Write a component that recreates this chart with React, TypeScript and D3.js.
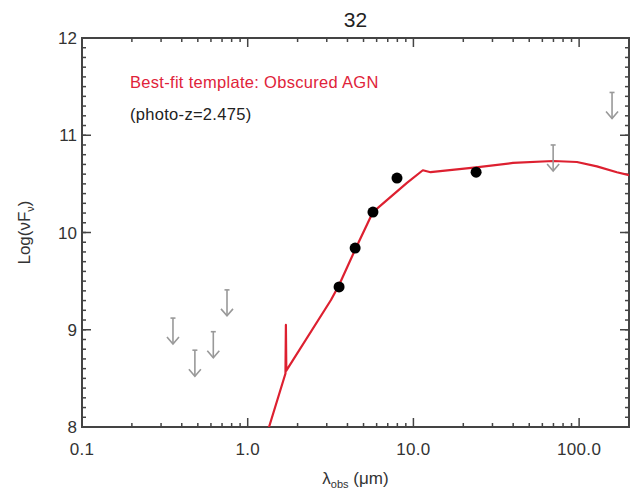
import React from "react";
import * as d3 from "d3";

const title = "32";
const xTickValues = [0.1, 1, 10, 100];
const xTickLabels = ["0.1", "1.0", "10.0", "100.0"];
const yTickValues = [8, 9, 10, 11, 12];
const yTickLabels = ["8", "9", "10", "11", "12"];

// detections (wavelength µm, log nuFnu)
const detLambda = [3.56, 4.45, 5.7, 7.96, 23.9];
const detValue = [9.44, 9.84, 10.21, 10.56, 10.62];

// upper limits
const ulLambda = [0.354, 0.48, 0.62, 0.75, 69.7, 158];
const ulValue = [9.12, 8.79, 8.98, 9.41, 10.9, 11.44];

// best-fit template
const tplLambda = [1.22, 1.345, 1.69, 1.70, 1.71, 3.18, 3.56, 4.44, 5.7, 9.14, 11.4, 12.7, 23.9, 39.9, 69.7, 97, 128, 169, 200];
const tplValue = [7.815, 8.0, 8.55, 9.05, 8.58, 9.306, 9.46, 9.82, 10.21, 10.51, 10.64, 10.62, 10.67, 10.715, 10.735, 10.725, 10.68, 10.62, 10.59];

const W = 641, H = 493;
const L = 82, R = 629, T = 38, B = 427;

export default function App() {
  const x = d3.scaleLog().domain([0.1, 200]).range([L, R]);
  const y = d3.scaleLinear().domain([8, 12]).range([B, T]);
  const line = d3.line<number>().x((_, i) => x(tplLambda[i])).y((d) => y(d));
  const tplPath = line(tplValue) || "";

  const xMinor: number[] = [];
  for (let e = -1; e <= 2; e++) {
    for (let k = 2; k <= 9; k++) {
      const v = k * Math.pow(10, e);
      if (v < 200) xMinor.push(v);
    }
  }
  const yMinor: number[] = d3.range(80, 121).map((v) => v / 10);
  const axisColor = "#444";
  const font = "'Liberation Sans', Arial, sans-serif";

  return (
    <svg width={W} height={H} style={{ position: "absolute", left: 0, top: 0, background: "#fff" }} fontFamily={font}>
      <defs>
        <clipPath id="plotClip">
          <rect x={L} y={T} width={R - L} height={B - T} />
        </clipPath>
      </defs>
      <text x={(L + R) / 2} y={27} textAnchor="middle" fontSize={21} fill="#222">{title}</text>

      {/* minor ticks */}
      {yMinor.map((v, i) => (
        <g key={"ym" + i} stroke={axisColor} strokeWidth={1.5}>
          <line x1={L} x2={L + 4} y1={y(v)} y2={y(v)} />
          <line x1={R} x2={R - 4} y1={y(v)} y2={y(v)} />
        </g>
      ))}
      {yTickValues.map((v, i) => (
        <g key={"yM" + i} stroke={axisColor} strokeWidth={1.5}>
          <line x1={L} x2={L + 9} y1={y(v)} y2={y(v)} />
          <line x1={R} x2={R - 9} y1={y(v)} y2={y(v)} />
        </g>
      ))}
      {xMinor.map((v, i) => (
        <g key={"xm" + i} stroke={axisColor} strokeWidth={1.5}>
          <line x1={x(v)} x2={x(v)} y1={B} y2={B - 4} />
          <line x1={x(v)} x2={x(v)} y1={T} y2={T + 4} />
        </g>
      ))}
      {xTickValues.map((v, i) => (
        <g key={"xM" + i} stroke={axisColor} strokeWidth={1.5}>
          <line x1={x(v)} x2={x(v)} y1={B} y2={B - 9} />
          <line x1={x(v)} x2={x(v)} y1={T} y2={T + 9} />
        </g>
      ))}
      <rect x={L} y={T} width={R - L} height={B - T} fill="none" stroke={axisColor} strokeWidth={2} />

      {/* tick labels */}
      {yTickValues.map((v, i) => (
        <text key={"yl" + i} x={L - 5} y={y(v) + 6} textAnchor="end" fontSize={17} fill="#333">{yTickLabels[i]}</text>
      ))}
      {xTickValues.map((v, i) => (
        <text key={"xl" + i} x={x(v)} y={B + 28} textAnchor="middle" fontSize={17} fill="#333" letterSpacing={0.3}>{xTickLabels[i]}</text>
      ))}

      {/* axis titles */}
      <text x={(L + R) / 2} y={484} textAnchor="middle" fontSize={17} fill="#333">
        λ<tspan fontSize={11} dy={4}>obs</tspan><tspan dy={-4}> (μm)</tspan>
      </text>
      <text transform={`translate(30,${(T + B) / 2}) rotate(-90)`} textAnchor="middle" fontSize={17} fill="#333">
        Log(νF<tspan fontSize={11} dy={4}>ν</tspan><tspan dy={-4}>)</tspan>
      </text>

      {/* legend text */}
      <text x={130} y={88} fontSize={16.5} letterSpacing={0.3} fill="#e0233a">Best-fit template: Obscured AGN</text>
      <text x={130} y={120} fontSize={16.5} letterSpacing={0.3} fill="#222">(photo-z=2.475)</text>

      {/* template */}
      <g clipPath="url(#plotClip)">
        <path d={tplPath} fill="none" stroke="#dd2030" strokeWidth={2.2} strokeLinejoin="round" />
      </g>

      {/* upper limits */}
      {ulValue.map((v, i) => {
        const cx = x(ulLambda[i]);
        const cy = y(v);
        const len = 26;
        return (
          <g key={"ul" + i} stroke="#999" strokeWidth={1.6} fill="none">
            <line x1={cx - 2.5} x2={cx + 2.5} y1={cy} y2={cy} />
            <line x1={cx} x2={cx} y1={cy} y2={cy + len} />
            <polyline points={`${cx - 6},${cy + len - 7} ${cx},${cy + len} ${cx + 6},${cy + len - 7}`} />
          </g>
        );
      })}

      {/* detections */}
      {detValue.map((v, i) => (
        <circle key={"d" + i} cx={x(detLambda[i])} cy={y(v)} r={5.5} fill="#000" />
      ))}
    </svg>
  );
}
